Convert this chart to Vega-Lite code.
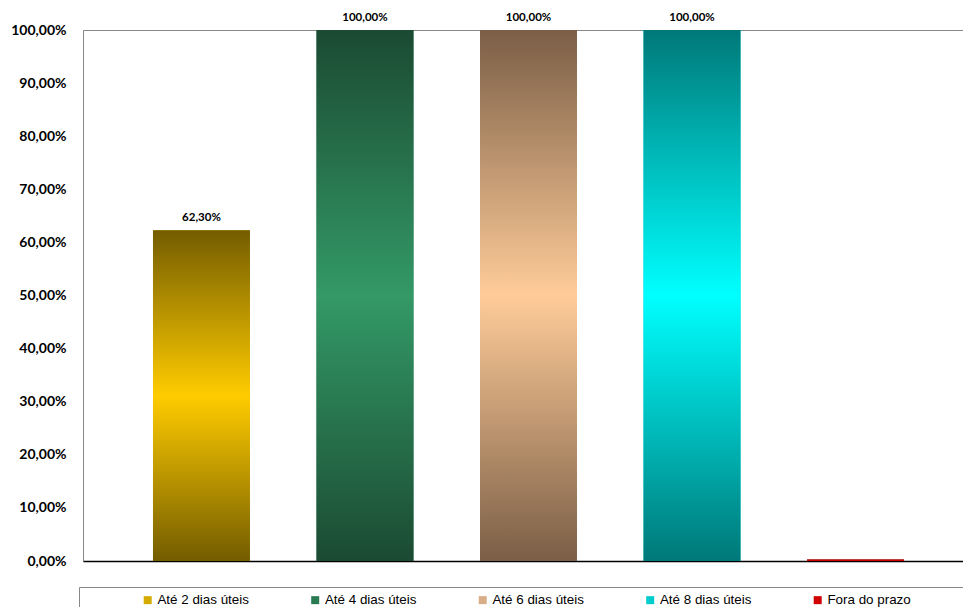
{
  "$schema": "https://vega.github.io/schema/vega-lite/v6.json",
  "width": 881,
  "height": 531,
  "autosize": {"type": "none"},
  "padding": {"left": 83, "top": 30, "right": 0, "bottom": 46},
  "config": {
    "locale": {
      "number": {"decimal": ",", "thousands": ".", "grouping": [3], "currency": ["R$ ", ""]}
    },
    "view": {"stroke": "#888888", "strokeWidth": 1},
    "font": "Lato"
  },
  "data": {
    "values": [
      {"serie": "Até 2 dias úteis", "pct": 0.623},
      {"serie": "Até 4 dias úteis", "pct": 1.0},
      {"serie": "Até 6 dias úteis", "pct": 1.0},
      {"serie": "Até 8 dias úteis", "pct": 1.0},
      {"serie": "Fora do prazo", "pct": 0.003}
    ]
  },
  "encoding": {
    "x": {
      "field": "serie",
      "type": "nominal",
      "sort": null,
      "scale": {"paddingInner": 0.407, "paddingOuter": 0.428, "rangeMax": 891},
      "axis": {"title": null, "labels": false, "ticks": false, "domainColor": "#000000", "domainWidth": 1.5}
    },
    "y": {
      "field": "pct",
      "type": "quantitative",
      "scale": {"domain": [0, 1]},
      "axis": {
        "title": null,
        "format": ".2%",
        "values": [0, 0.1, 0.2, 0.3, 0.4, 0.5, 0.6, 0.7, 0.8, 0.9, 1],
        "grid": false,
        "ticks": false,
        "domainColor": "#888888",
        "labelFont": "Lato",
        "labelFontWeight": "bold",
        "labelFontSize": 14,
        "labelColor": "#000000",
        "labelPadding": 17
      }
    }
  },
  "layer": [
    {
      "mark": {"type": "bar"},
      "encoding": {
        "color": {
          "field": "serie",
          "type": "nominal",
          "sort": null,
          "scale": {"range": ["#D4AC00", "#2A7A52", "#D9AD85", "#00CCCC", "#D00000"]},
          "legend": {
            "title": " ",
            "titleOrient": "right",
            "titlePadding": 70,
            "orient": "none",
            "legendX": -4,
            "legendY": 557,
            "direction": "horizontal",
            "columns": 5,
            "gridAlign": "all",
            "columnPadding": 3.5,
            "symbolType": "square",
            "symbolSize": 64,
            "symbolStrokeWidth": 0,
            "symbolOffset": 56,
            "labelFont": "Liberation Sans",
            "labelFontSize": 13.4,
            "labelColor": "#000000",
            "labelOffset": 3,
            "strokeColor": "#888888",
            "fillColor": "#FFFFFF",
            "padding": 6
          }
        }
      }
    },
    {
      "mark": {"type": "bar"},
      "encoding": {
        "fill": {
          "condition": [
            {"test": "datum.serie === 'Até 2 dias úteis'", "value": {"gradient": "linear", "x1": 0, "y1": 0, "x2": 0, "y2": 1, "stops": [
              {"offset": 0, "color": "#735C00"}, {"offset": 0.5, "color": "#FFCC00"}, {"offset": 1, "color": "#735C00"}]}},
            {"test": "datum.serie === 'Até 4 dias úteis'", "value": {"gradient": "linear", "x1": 0, "y1": 0, "x2": 0, "y2": 1, "stops": [
              {"offset": 0, "color": "#1B4A32"}, {"offset": 0.5, "color": "#339966"}, {"offset": 1, "color": "#1B4A32"}]}},
            {"test": "datum.serie === 'Até 6 dias úteis'", "value": {"gradient": "linear", "x1": 0, "y1": 0, "x2": 0, "y2": 1, "stops": [
              {"offset": 0, "color": "#7A5E46"}, {"offset": 0.5, "color": "#FFCC99"}, {"offset": 1, "color": "#7A5E46"}]}},
            {"test": "datum.serie === 'Até 8 dias úteis'", "value": {"gradient": "linear", "x1": 0, "y1": 0, "x2": 0, "y2": 1, "stops": [
              {"offset": 0, "color": "#007878"}, {"offset": 0.5, "color": "#00FFFF"}, {"offset": 1, "color": "#007878"}]}}
          ],
          "value": {"gradient": "linear", "x1": 0, "y1": 0, "x2": 0, "y2": 1, "stops": [
            {"offset": 0, "color": "#800000"}, {"offset": 0.5, "color": "#FF0000"}, {"offset": 1, "color": "#800000"}]}
        }
      }
    },
    {
      "transform": [{"filter": "datum.pct >= 0.01"}],
      "mark": {"type": "text", "dy": -9, "baseline": "alphabetic", "fontWeight": "bold", "fontSize": 11.5, "font": "Lato", "color": "#000000"},
      "encoding": {
        "text": {"field": "pct", "type": "quantitative", "format": ".2%"}
      }
    }
  ]
}
